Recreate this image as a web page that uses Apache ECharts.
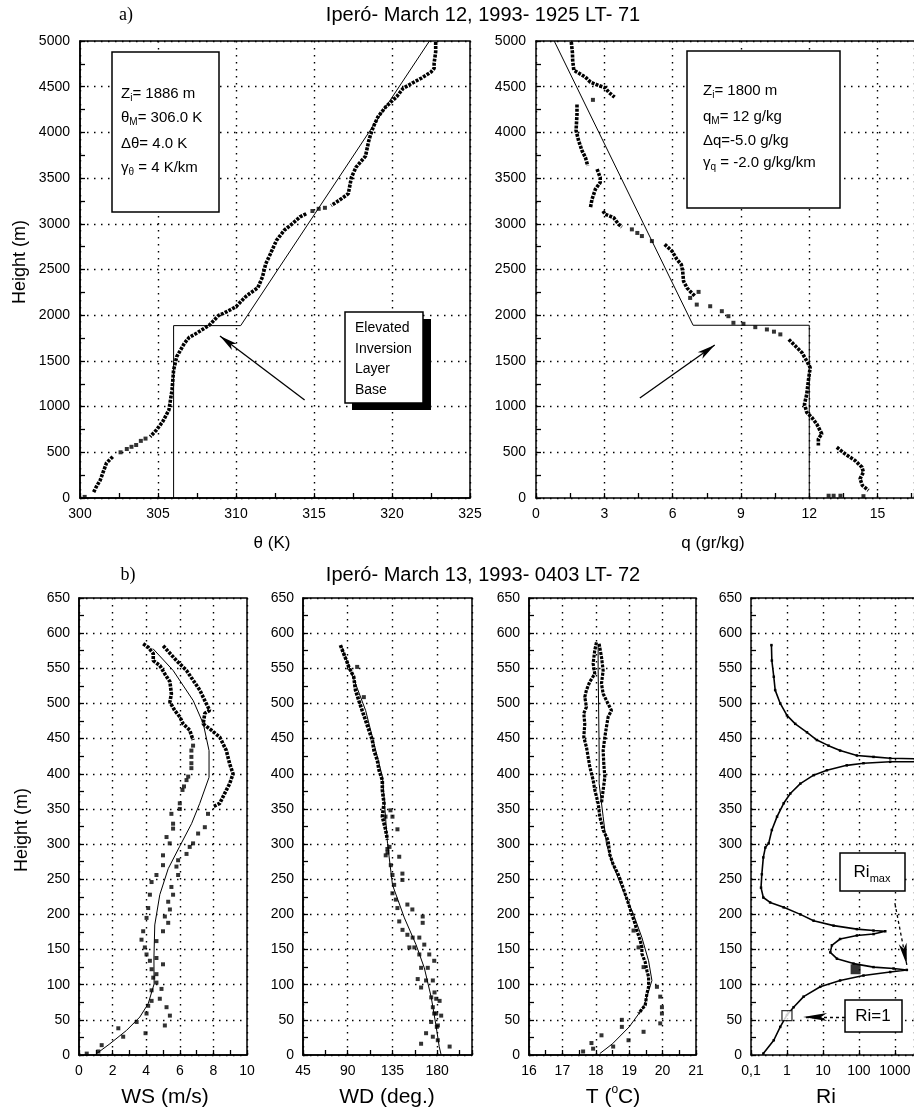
<!DOCTYPE html>
<html>
<head>
<meta charset="utf-8">
<script src="https://cdn.jsdelivr.net/npm/echarts@6/dist/echarts.min.js"></script>
<style>
  html, body { margin: 0; padding: 0; background: #fff; }
  #chart { width: 914px; height: 1114px; }
</style>
</head>
<body>
<div id="chart"></div>
<script>
// ---------- (a) 12 March 1993, 19:25 LT : potential temperature and humidity ----------
// measured potential temperature [theta K, height m], split in traced segments
const thetaObsTop = [[322.8,4990],[322.8,4880],[322.7,4760],[322.7,4700],[322.5,4660],[321.9,4595],[321.3,4540],[320.7,4480],[320.3,4390],[319.6,4280],[319.1,4170],[318.8,4060],[318.6,3960],[318.5,3900],[318.3,3740],[317.7,3620],[317.4,3510],[317.2,3330],[316.6,3255],[316.1,3200]];
const thetaObsGap1 = [[315.7,3175],[315.3,3164],[314.9,3140]];
const thetaObsMid = [[314.5,3110],[314.1,3075],[313.6,3000],[313.1,2930],[312.6,2820],[312.2,2670],[311.9,2560],[311.7,2420],[311.4,2300],[310.9,2240],[310.6,2200],[310.0,2093],[309.2,2020],[308.9,2000],[308.3,1893],[307.5,1805],[307.0,1757],[306.7,1695],[306.2,1546],[306.0,1400],[305.9,1182],[305.7,963],[305.3,835],[304.9,744],[304.5,671]];
const thetaObsGap2 = [[304.2,650],[303.9,625],[303.6,580],[303.3,560],[303.0,536],[302.6,500]];
const thetaObsLow = [[302.1,452],[301.7,383],[301.5,290],[301.3,197],[301.0,109],[300.85,55]];
const thetaObsDots = [[300.3,12]];
// mixed-layer model: Zi, thetaM, delta-theta, lapse above
const thetaModel = [[306.0,0],[306.0,1886],[310.3,1886],[322.4,5000]];
const thetaArrow = [[314.4,1072],[308.97,1772]];

// measured specific humidity [q g/kg, height m]
const qObsS1 = [[1.55,4990],[1.6,4870],[1.61,4790],[1.66,4680],[1.8,4660],[2.17,4605],[2.39,4550],[2.75,4513],[3.04,4488],[3.19,4440],[3.45,4385]];
const qObsS2 = [[1.8,4305],[1.8,4200],[1.76,4020],[1.87,3910],[2.02,3800],[2.17,3726],[2.27,3635]];
const qObsS3 = [[2.68,3598],[2.82,3507],[2.82,3452],[2.61,3379],[2.46,3269],[2.39,3177]];
const qObsS4 = [[2.94,3141],[3.04,3104],[3.41,3068],[3.63,2994],[3.77,2965]];
const qObsS5 = [[5.65,2775],[5.97,2702],[6.19,2610],[6.38,2555],[6.44,2482],[6.48,2372],[6.55,2352],[6.63,2299],[6.77,2261],[6.99,2207]];
const qObsS6 = [[11.1,1735],[11.39,1663],[11.68,1590],[11.89,1499],[12.04,1427],[11.97,1300],[11.89,1136],[11.79,1027],[11.89,937],[12.11,882],[12.33,809],[12.55,701],[12.4,646],[12.4,574]];
const qObsS7 = [[13.21,555],[13.57,483],[14.01,410],[14.31,338],[14.38,283],[14.23,211],[14.33,138],[14.6,83]];
const qObsDots = [[2.5,4356],[4.21,2939],[4.45,2900],[4.65,2866],[5.09,2811],[7.14,2255],[6.77,2189],[7.06,2116],[7.65,2098],[8.16,2044],[8.45,1989],[8.67,1917],[9.11,1906],[9.63,1869],[10.14,1844],[10.45,1820],[10.73,1790],[12.85,25],[13.07,25],[13.37,25],[14.38,20]];
const qModel = [[12,0],[12,1890],[6.9,1890],[0.8,5000]];
const qArrow = [[4.56,1094],[7.85,1674]];

// ---------- (b) 13 March 1993, 04:03 LT : tethered balloon profiles ----------
const wsInnerTop = [[3.82,585],[4.12,580],[4.42,571],[4.42,561],[4.81,554],[5.11,542],[5.41,531],[5.5,514],[5.41,502],[5.7,490],[6.0,481],[6.2,471],[6.59,462],[6.79,448]];
const wsInnerDots = [[6.79,440],[6.69,433],[6.69,424],[6.69,415],[6.69,408],[6.5,396],[6.4,391],[6.25,382],[6.16,377],[6.0,358],[6.0,350],[5.5,343],[5.6,329],[5.6,322],[5.21,310],[5.4,301],[5.0,284],[5.0,270],[4.61,256],[4.32,246],[4.22,228],[4.12,209],[4.02,195],[3.82,176],[3.72,164],[3.92,153],[4.02,143],[4.22,134],[4.32,122],[4.42,110],[4.32,92],[4.32,77],[4.12,70],[4.02,59],[3.43,47],[3.96,31],[2.34,38],[2.63,26],[1.35,14],[1.15,5],[0.46,2]];
const wsOuterTop = [[5.01,582],[5.8,561],[6.4,547],[6.79,533],[7.19,519],[7.49,504],[7.78,490],[7.49,486],[7.39,471],[7.88,462],[8.38,452],[8.77,433],[8.97,414],[9.17,400],[8.97,386],[8.67,372],[8.38,358],[7.98,353]];
const wsOuterDots = [[7.68,343],[7.49,324],[7.09,315],[6.79,301],[6.59,296],[6.4,286],[5.9,277],[5.8,268],[5.9,256],[5.5,239],[5.6,228],[5.31,218],[5.41,207],[5.11,197],[5.31,188],[5.0,176],[4.61,162],[4.61,138],[5.0,129],[4.61,115],[4.61,103],[4.91,94],[4.81,80],[5.21,68],[5.41,56],[5.11,42]];
const wsModel = [[4.4,578],[5.6,547],[6.8,504],[7.4,471],[7.74,433],[7.74,395],[7.19,358],[6.7,329],[6.0,297],[5.31,265],[4.81,228],[4.51,185],[4.46,138],[4.47,101],[4.12,73],[3.62,54],[2.83,35],[1.84,16],[1.05,2]];

const wdTop = [[82.6,583],[85.9,571],[89.3,559],[91,552],[96,538],[97.8,519],[101.2,504],[104.5,490],[107.9,476],[111.3,462],[114.7,448],[116.4,433],[119.8,419],[121.5,405],[124.8,391],[124.8,377],[126.5,358],[124.8,339],[128.2,320],[129.9,306]];
const wdDots = [[106.2,509],[99.5,552],[128,339],[135,339],[140,321],[133,348],[129.9,293],[128.2,284],[133.3,270],[135,256],[136.7,242],[135,230],[138.4,221],[140,209],[141.8,190],[145.1,178],[141.8,282],[145,258],[145,249],[150,214],[155,207],[165.4,197],[165.4,188],[155.3,167],[152,153],[162,167],[167,157],[162,143],[172,143],[170.5,124],[160.4,108],[163.8,96],[177,134],[175.6,106],[177.3,89],[179,80],[182.4,77],[175.6,68],[179,59],[184,56],[173.9,47],[180.7,42],[168.8,31],[175.6,26],[163.8,16],[192.5,12],[150,171],[157,153],[163.8,124],[168.8,106],[174,82],[177,59],[179.6,40],[180.6,21],[132,296],[130,288]];
const wdModel = [[84,580],[108,490],[125,395],[130,301],[135,242],[147,195],[158.7,157],[167,124],[174,82],[179,40],[182,12],[184,0]];

const tLeft = [[18.02,587],[17.97,576],[17.92,557],[17.97,542],[17.82,531],[17.72,519],[17.67,509],[17.72,495],[17.64,486],[17.67,471],[17.64,452],[17.72,438],[17.77,424],[17.82,410],[17.92,391],[17.97,377],[18.07,358],[18.12,339],[18.22,320],[18.37,305],[18.42,285],[18.52,271],[18.67,257],[18.78,243],[18.88,229],[18.98,215],[19.08,200],[19.18,186],[19.23,177],[19.33,163],[19.38,153],[19.38,144],[19.48,132],[19.53,120],[19.58,111],[19.58,97],[19.53,87],[19.48,71],[19.28,59]];
const tRight = [[18.1,585],[18.17,566],[18.22,547],[18.17,528],[18.22,514],[18.32,504],[18.47,490],[18.37,481],[18.32,467],[18.27,452],[18.22,433],[18.24,414],[18.27,395],[18.22,377],[18.17,358]];
const tDots = [[19.13,177],[19.28,153],[19.43,125],[19.83,97],[19.93,83],[19.98,68],[19.98,59],[19.93,45],[19.43,33],[18.98,21],[18.78,50],[18.78,40],[18.17,28],[18.52,12],[17.87,17],[17.92,9],[17.62,5]];
const tModel = [[18.07,583],[18.07,552],[18.1,433],[18.1,386],[18.22,339],[18.32,300],[18.47,276],[18.78,238],[19.13,200],[19.38,167],[19.58,134],[19.68,106],[19.43,68],[19.0,40],[18.5,16],[18.12,2]];

// Richardson number [Ri, height m]
const riUpper = [[0.37,583],[0.38,561],[0.43,538],[0.47,519],[0.65,500],[1.0,483],[1.7,471],[3.6,459],[6.8,448],[14.3,440],[30,433],[88,426],[255,424],[740,422],[9000,421]];
const riLower = [[9000,417],[740,417],[134,415],[46,412],[12.9,405],[5.5,398],[2.35,386],[1.24,372],[0.81,358],[0.53,339],[0.38,320],[0.31,301],[0.25,295],[0.22,281],[0.2,257],[0.19,238],[0.22,224],[0.34,217],[0.81,210],[2.35,200],[5.5,191],[19.8,184],[88,179],[255,177],[540,176],[255,172],[88,170],[30,165],[17.7,156],[16,146],[24.5,137],[71,130],[255,125],[920,123],[2150,121],[740,118],[134,113],[30,106],[8.4,97],[2.9,83],[1.53,68],[1.0,57],[0.65,40],[0.43,21],[0.22,2]];
const riCritical = [[1,56]];
const riMaxPoint = [[81,122]];
const riMaxArrow = [[1000,216],[2150,128]];
const riOneArrow = [[41,54],[2.8,54]];

// axis ranges and tick steps
const thetaTicks = { min: 300, max: 325, interval: 5 };
const qTicks = { min: 0, max: 16.6, interval: 3 };
const zTopTicks = { min: 0, max: 5000, interval: 500 };
const wsTicks = { min: 0, max: 10, interval: 2 };
const wdTicks = { min: 45, max: 215, interval: 45 };
const tTicks = { min: 16, max: 21, interval: 1 };
const zLowTicks = { min: 0, max: 650, interval: 50 };
const riRange = { min: 0.1, max: 3400 };

const FONT = '"Liberation Sans", Arial, Helvetica, sans-serif';
const INK = '#000';
const plainNum = v => String(v);

function label(extra) {
  return Object.assign({ color: INK, fontFamily: FONT, fontSize: 14, margin: 9, formatter: plainNum }, extra || {});
}
function valueAxis(gi, ticks, extra) {
  return Object.assign({
    type: 'value', gridIndex: gi,
    min: ticks.min, max: ticks.max, interval: ticks.interval,
    axisLine: { show: true, onZero: false, lineStyle: { color: INK, width: 1.5 } },
    axisTick: { show: true, inside: true, length: 5, lineStyle: { color: INK, width: 1.3 } },
    minorTick: { show: true, splitNumber: 2, length: 5, lineStyle: { color: INK, width: 1.3 } },
    splitLine: { show: true, lineStyle: { color: INK, width: 1.4, type: [1.5, 5.5] } },
    axisLabel: label()
  }, extra || {});
}
// top border for the panels that run past the right edge of the page
function topEdge(gi) {
  return { type: 'value', gridIndex: gi, position: 'top', min: 0, max: 1,
    axisLine: { show: true, onZero: false, lineStyle: { color: INK, width: 1.5 } },
    axisTick: { show: false }, axisLabel: { show: false }, splitLine: { show: false } };
}

const grids = [
  { left: 80, top: 41, width: 390, height: 457, show: true },
  { left: 536, top: 41, width: 380, height: 457, show: false },
  { left: 79, top: 598, width: 168, height: 457, show: true },
  { left: 303, top: 598, width: 169, height: 457, show: true },
  { left: 529, top: 598, width: 167, height: 457, show: true },
  { left: 751, top: 598, width: 165, height: 457, show: false }
].map(g => Object.assign({ borderColor: INK, borderWidth: 1.5, backgroundColor: 'transparent', containLabel: false }, g));

const xAxes = [
  valueAxis(0, thetaTicks),
  valueAxis(1, qTicks, { axisLabel: label({ showMaxLabel: false }) }),
  valueAxis(2, wsTicks),
  valueAxis(3, wdTicks, { axisLabel: label({ showMaxLabel: false }) }),
  valueAxis(4, tTicks),
  {
    type: 'log', gridIndex: 5, logBase: 10, min: riRange.min, max: riRange.max,
    axisLine: { show: true, onZero: false, lineStyle: { color: INK, width: 1.5 } },
    axisTick: { show: true, inside: true, length: 5, lineStyle: { color: INK, width: 1.3 } },
    splitLine: { show: true, lineStyle: { color: INK, width: 1.4, type: [1.5, 5.5] } },
    axisLabel: label({ showMaxLabel: false, formatter: v => (v < 1 ? '0,1' : String(Math.round(v))) })
  },
  topEdge(1),
  topEdge(5)
];

const yAxes = [
  valueAxis(0, zTopTicks, { axisLabel: label({ margin: 10 }) }),
  valueAxis(1, zTopTicks, { axisLabel: label({ margin: 10 }) }),
  valueAxis(2, zLowTicks),
  valueAxis(3, zLowTicks),
  valueAxis(4, zLowTicks),
  valueAxis(5, zLowTicks)
];

function base(gi) { return { xAxisIndex: gi, yAxisIndex: gi, silent: true, animation: false }; }
function dense(gi, data, width) {
  return Object.assign(base(gi), { type: 'line', data, showSymbol: false, z: 4,
    lineStyle: { color: INK, width: width || 3.6, type: [3, 1.2] } });
}
function dots(gi, data, size) {
  return Object.assign(base(gi), { type: 'scatter', data, symbol: 'rect', symbolSize: size || 4, z: 4,
    itemStyle: { color: INK } });
}
function model(gi, data, width) {
  return Object.assign(base(gi), { type: 'line', data, showSymbol: false, z: 3,
    lineStyle: { color: INK, width: width || 1 } });
}
function arrow(gi, pts, dashed, head) {
  return Object.assign(base(gi), { type: 'line', data: [], z: 5,
    markLine: { silent: true, animation: false, symbol: ['none', 'arrow'], symbolSize: head,
      label: { show: false },
      lineStyle: { color: INK, width: 1.3, type: dashed ? [3, 3] : 'solid' },
      data: [[{ coord: pts[0] }, { coord: pts[1] }]] } });
}

const series = [
  model(0, thetaModel),
  dense(0, thetaObsTop), dots(0, thetaObsGap1), dense(0, thetaObsMid),
  dots(0, thetaObsGap2), dense(0, thetaObsLow), dots(0, thetaObsDots),
  arrow(0, thetaArrow, false, [6, 18]),

  model(1, qModel),
  dense(1, qObsS1), dense(1, qObsS2), dense(1, qObsS3), dense(1, qObsS4),
  dense(1, qObsS5), dense(1, qObsS6), dense(1, qObsS7), dots(1, qObsDots),
  arrow(1, qArrow, false, [6, 18]),

  model(2, wsModel),
  dense(2, wsInnerTop), dots(2, wsInnerDots),
  dense(2, wsOuterTop), dots(2, wsOuterDots),

  model(3, wdModel),
  dense(3, wdTop), dots(3, wdDots),

  model(4, tModel),
  dense(4, tLeft, 3.2), dense(4, tRight, 3.2), dots(4, tDots),

  Object.assign(base(5), { type: 'line', data: riUpper, showSymbol: true, symbol: 'rect', symbolSize: 2.5,
    itemStyle: { color: INK }, lineStyle: { color: INK, width: 1.6 }, z: 4 }),
  Object.assign(base(5), { type: 'line', data: riLower, showSymbol: true, symbol: 'rect', symbolSize: 2.5,
    itemStyle: { color: INK }, lineStyle: { color: INK, width: 1.6 }, z: 4 }),
  Object.assign(base(5), { type: 'scatter', data: riCritical, symbol: 'rect', symbolSize: 10, z: 6,
    itemStyle: { color: '#fff', borderColor: INK, borderWidth: 1.3 } }),
  Object.assign(base(5), { type: 'scatter', data: riMaxPoint, symbol: 'rect', symbolSize: 10, z: 6,
    itemStyle: { color: INK } }),
  arrow(5, riMaxArrow, true, [6, 22]),
  arrow(5, riOneArrow, true, [6, 24])
];

// ---- annotation texts and boxes ----
const rich = {
  b: { fontFamily: FONT, fontSize: 15, color: INK, verticalAlign: 'middle', lineHeight: 20 },
  s: { fontFamily: FONT, fontSize: 10, color: INK, verticalAlign: 'bottom', lineHeight: 20 }
};
function line(x, y, text) {
  return { type: 'text', left: x, top: y, silent: true, z: 11,
    style: { text, rich, fill: INK, font: '15px ' + FONT } };
}
function plain(x, y, text, size, extra) {
  return Object.assign({ type: 'text', silent: true, x, y,
    style: { text, fill: INK, font: (size || 15) + 'px ' + FONT, textAlign: 'center', textVerticalAlign: 'middle' } }, extra || {});
}
function box(x, y, w, h) {
  return { type: 'rect', silent: true, shape: { x, y, width: w, height: h },
    style: { fill: '#fff', stroke: INK, lineWidth: 1.5 }, z: 10 };
}
const SERIF = '"Liberation Serif", "DejaVu Serif", serif';

const graphic = [
  // panel titles
  { type: 'text', silent: true, x: 126, y: 15, style: { text: 'a)', fill: INK, font: '18px ' + SERIF, textAlign: 'center', textVerticalAlign: 'middle' } },
  plain(483, 15, 'Iperó- March 12, 1993- 1925 LT- 71', 20),
  { type: 'text', silent: true, x: 128, y: 575, style: { text: 'b)', fill: INK, font: '18px ' + SERIF, textAlign: 'center', textVerticalAlign: 'middle' } },
  plain(483, 575, 'Iperó- March 13, 1993- 0403 LT- 72', 20),

  // axis names
  plain(272, 543, 'θ (K)', 17),
  plain(713, 543, 'q (gr/kg)', 17),
  plain(20, 262, 'Height (m)', 18, { rotation: Math.PI / 2 }),
  plain(22, 830, 'Height (m)', 18, { rotation: Math.PI / 2 }),
  plain(165, 1097, 'WS (m/s)', 21),
  plain(387, 1097, 'WD (deg.)', 21),
  { type: 'text', silent: true, x: 613, y: 1097,
    style: { text: 'T ({p|o}C)', fill: INK, font: '21px ' + FONT, textAlign: 'center', textVerticalAlign: 'middle',
      rich: { p: { fontFamily: FONT, fontSize: 12, verticalAlign: 'top', lineHeight: 26, color: INK } } } },
  plain(826, 1097, 'Ri', 21),

  // theta mixed-layer parameters
  box(112, 52, 107, 160),
  line(121, 86, '{b|Z}{s|i}{b|= 1886 m}'),
  line(121, 110, '{b|θ}{s|M}{b|= 306.0 K}'),
  line(121, 136, '{b|Δθ= 4.0 K}'),
  line(121, 160, '{b|γ}{s|θ}{b| = 4 K/km}'),

  // humidity mixed-layer parameters
  box(687, 51, 153, 157),
  line(703, 83, '{b|Z}{s|i}{b|= 1800 m}'),
  line(703, 109, '{b|q}{s|M}{b|= 12 g/kg}'),
  line(703, 133, '{b|Δq=-5.0 g/kg}'),
  line(703, 155, '{b|γ}{s|q}{b| = -2.0 g/kg/km}'),

  // elevated inversion label with drop shadow
  { type: 'rect', silent: true, shape: { x: 352, y: 319, width: 79, height: 91 }, style: { fill: INK }, z: 9 },
  box(345, 312, 78, 91),
  { type: 'text', silent: true, left: 355, top: 318, z: 11,
    style: { text: 'Elevated\nInversion\nLayer\nBase', fill: INK, font: '14px ' + FONT, lineHeight: 20.5 } },

  // Richardson number labels
  box(840, 853, 65, 38),
  { type: 'text', silent: true, x: 872, y: 872, z: 11,
    style: { text: '{r|Ri}{s|max}', textAlign: 'center', textVerticalAlign: 'middle',
      rich: { r: { fontFamily: FONT, fontSize: 17, color: INK, verticalAlign: 'middle', lineHeight: 24 },
              s: { fontFamily: FONT, fontSize: 11, color: INK, verticalAlign: 'bottom', lineHeight: 24 } } } },
  box(845, 1000, 57, 32),
  plain(873, 1016, 'Ri=1', 17, { z: 11 })
];

const chart = echarts.init(document.getElementById('chart'), null, { renderer: 'canvas' });
chart.setOption({
  backgroundColor: '#fff',
  animation: false,
  textStyle: { fontFamily: FONT },
  grid: grids,
  xAxis: xAxes,
  yAxis: yAxes,
  series,
  graphic
});
</script>
</body>
</html>
